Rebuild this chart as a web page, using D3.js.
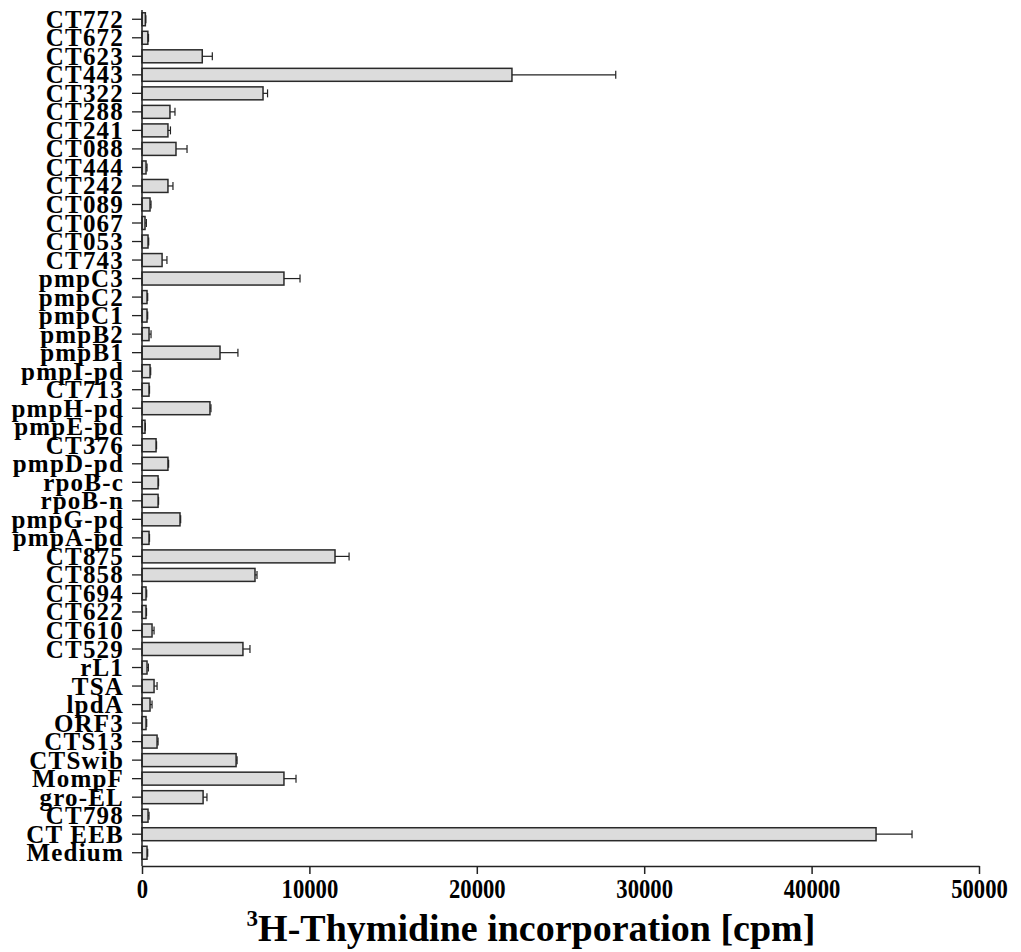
<!DOCTYPE html>
<html>
<head>
<meta charset="utf-8">
<script src="https://cdn.jsdelivr.net/npm/d3@7"></script>
<style>
  body { margin: 0; background: #fff; }
  svg text { font-family: "Liberation Serif", "Times New Roman", serif; font-weight: bold; fill: #000; }
</style>
</head>
<body>
<div id="chart"></div>
<script>
// data, top to bottom as in the figure
const antigens = [
  "CT772", "CT672", "CT623", "CT443", "CT322", "CT288", "CT241", "CT088", "CT444", "CT242",
  "CT089", "CT067", "CT053", "CT743", "pmpC3", "pmpC2", "pmpC1", "pmpB2", "pmpB1", "pmpI-pd",
  "CT713", "pmpH-pd", "pmpE-pd", "CT376", "pmpD-pd", "rpoB-c", "rpoB-n", "pmpG-pd", "pmpA-pd", "CT875",
  "CT858", "CT694", "CT622", "CT610", "CT529", "rL1", "TSA", "lpdA", "ORF3", "CTS13",
  "CTSwib", "MompF", "gro-EL", "CT798", "CT EEB", "Medium"
]
const cpm = [
  200, 350, 3600, 22100, 7230, 1670, 1550, 2030, 240, 1550,
  480, 180, 360, 1200, 8480, 300, 300, 420, 4660, 480,
  420, 4060, 180, 840, 1550, 960, 960, 2270, 420, 11530,
  6750, 240, 240, 600, 6030, 300, 720, 480, 240, 900,
  5620, 8480, 3650, 360, 43850, 300
]
const sem = [
  30, 40, 600, 6200, 270, 300, 150, 660, 60, 300,
  60, 80, 40, 290, 960, 40, 40, 120, 1070, 40,
  30, 60, 20, 30, 40, 30, 30, 40, 30, 840,
  120, 40, 30, 120, 420, 80, 180, 120, 40, 60,
  60, 720, 230, 60, 2150, 40
]
const xTicks = [0, 10000, 20000, 30000, 40000, 50000]

const dimensions = {
  width: 1021,
  height: 952,
  margin: { top: 10, right: 42, bottom: 86, left: 142 }
}
dimensions.boundedWidth = dimensions.width - dimensions.margin.left - dimensions.margin.right
dimensions.boundedHeight = dimensions.height - dimensions.margin.top - dimensions.margin.bottom

const dataset = antigens.map((name, i) => ({ name: name, value: cpm[i], err: sem[i] }))

const svg = d3.select("#chart").append("svg")
  .attr("width", dimensions.width)
  .attr("height", dimensions.height)

const bounds = svg.append("g")
  .attr("transform", "translate(" + dimensions.margin.left + "," + dimensions.margin.top + ")")

const x = d3.scaleLinear()
  .domain([0, 50000])
  .range([0, dimensions.boundedWidth])

const y = d3.scaleBand()
  .domain(antigens)
  .range([0, dimensions.boundedHeight - 4])
  .paddingInner(0.3)
  .paddingOuter(0.15)

// bars
bounds.selectAll(".bar")
  .data(dataset)
  .join("rect")
    .attr("class", "bar")
    .attr("x", x(0))
    .attr("y", d => y(d.name))
    .attr("width", d => x(d.value) - x(0))
    .attr("height", y.bandwidth())
    .attr("fill", "#dcdcdc")
    .attr("stroke", "#2a2a2a")
    .attr("stroke-width", 1.5)

// error bars (upper only)
const errG = bounds.selectAll(".err")
  .data(dataset)
  .join("g")
    .attr("class", "err")
    .attr("stroke", "#222")
    .attr("stroke-width", 1.2)
errG.append("line")
  .attr("x1", d => x(d.value))
  .attr("x2", d => x(d.value + d.err))
  .attr("y1", d => y(d.name) + y.bandwidth() / 2)
  .attr("y2", d => y(d.name) + y.bandwidth() / 2)
errG.append("line")
  .attr("x1", d => x(d.value + d.err))
  .attr("x2", d => x(d.value + d.err))
  .attr("y1", d => y(d.name) + y.bandwidth() / 2 - 4)
  .attr("y2", d => y(d.name) + y.bandwidth() / 2 + 4)

// y axis
const yAxis = bounds.append("g")
  .call(d3.axisLeft(y).tickSize(10).tickPadding(8).tickSizeOuter(0))
yAxis.select(".domain").attr("stroke", "#222").attr("stroke-width", 1.5)
  .attr("d", "M0,0V" + dimensions.boundedHeight)
yAxis.selectAll(".tick line").attr("stroke", "#222").attr("stroke-width", 1.3)
yAxis.selectAll(".tick text")
  .style("font-size", "25px")
  .style("letter-spacing", "1.2px")
  .attr("dy", "0.34em")

// x axis
const xAxis = bounds.append("g")
  .attr("transform", "translate(0," + dimensions.boundedHeight + ")")
  .call(d3.axisBottom(x).tickValues(xTicks).tickFormat(d3.format("d")).tickSize(8).tickPadding(5).tickSizeOuter(0))
xAxis.select(".domain").attr("stroke", "#222").attr("stroke-width", 1.5)
xAxis.selectAll(".tick line").attr("stroke", "#222").attr("stroke-width", 1.5)
xAxis.selectAll(".tick text")
  .style("font-size", "27px")
  .attr("transform", "scale(0.84,1)")

// x axis label
const label = svg.append("text")
  .attr("x", 531)
  .attr("y", 941)
  .attr("text-anchor", "middle")
  .style("font-size", "38px")
label.append("tspan").attr("dy", "-15").style("font-size", "23px").text("3")
label.append("tspan").attr("dy", "15").text("H-Thymidine incorporation [cpm]")
</script>
</body>
</html>
